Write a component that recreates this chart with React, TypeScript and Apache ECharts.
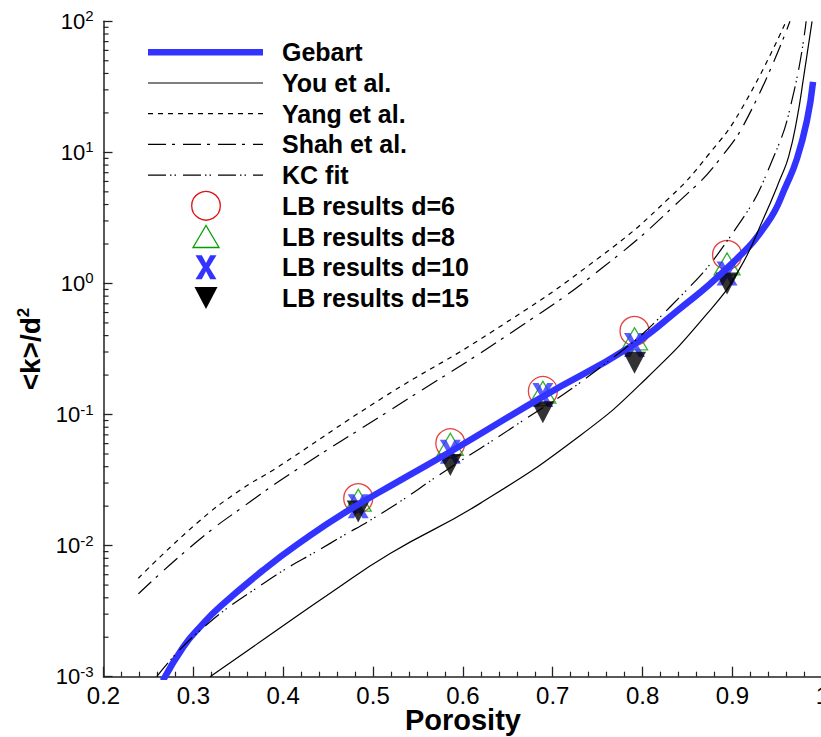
import React, { useEffect, useRef } from "react";
import * as echarts from "echarts";

// ---------- data (porosity, k/d^2) ----------
const gebartX = [0.266, 0.2889, 0.3075, 0.3297, 0.378, 0.4225, 0.467, 0.5306, 0.5859, 0.689, 0.7863, 0.8383, 0.894, 0.9385, 0.9608, 0.9719, 0.983, 0.9897];
const gebartK = [0.00093, 0.00169, 0.0024, 0.00342, 0.00652, 0.011, 0.0176, 0.0316, 0.052, 0.137, 0.329, 0.617, 1.31, 2.87, 5.81, 9.0, 17.6, 34.5];

const youX = [0.3186, 0.378, 0.4522, 0.519, 0.6192, 0.7306, 0.805, 0.8753, 0.9087, 0.9348, 0.9533, 0.9626, 0.9719, 0.9793, 0.9886];
const youK = [0.001, 0.00192, 0.00433, 0.0087, 0.021, 0.0692, 0.191, 0.627, 1.32, 3.16, 6.31, 9.33, 18.2, 37.8, 100];

const yangX = [0.2388, 0.3038, 0.352, 0.389, 0.5098, 0.6323, 0.7529, 0.8308, 0.873, 0.91, 0.9597];
const yangK = [0.00564, 0.0148, 0.0265, 0.0378, 0.133, 0.428, 1.6, 4.57, 9.55, 21.4, 100];

const shahX = [0.2388, 0.3038, 0.3631, 0.4114, 0.519, 0.6582, 0.7566, 0.842, 0.8865, 0.921, 0.964];
const shahK = [0.00428, 0.0107, 0.0216, 0.0366, 0.108, 0.442, 1.34, 4.32, 9.0, 21.0, 100];

const kcX = [0.2592, 0.3038, 0.378, 0.4522, 0.5154, 0.582, 0.6564, 0.7492, 0.8308, 0.905, 0.9459, 0.968, 0.982];
const kcK = [0.001, 0.00214, 0.00515, 0.0104, 0.0187, 0.0378, 0.0807, 0.219, 0.664, 2.7, 9.25, 28.2, 100];

const lbPorosity = [0.4835, 0.586, 0.689, 0.791, 0.894];
const lbD6 = [0.023, 0.0603, 0.151, 0.434, 1.65];
const lbD8 = [0.0222, 0.0593, 0.148, 0.378, 1.41];
const lbD10 = [0.02, 0.052, 0.141, 0.339, 1.19];
const lbD15 = [0.0182, 0.0412, 0.104, 0.248, 1.0];

const xTickLabels = ["0.2", "0.3", "0.4", "0.5", "0.6", "0.7", "0.8", "0.9", "1"];
const yExponents = [-3, -2, -1, 0, 1, 2];
const legendNames = ["Gebart", "You et al.", "Yang et al.", "Shah et al.", "KC fit", "LB results d=6", "LB results d=8", "LB results d=10", "LB results d=15"];

// ---------- styles ----------
const FONT = '"Liberation Sans", Arial, Helvetica, sans-serif';
const AXIS = "#222222";
const BLUE = "#3333ff";
const RED = "#dd1111";
const GREEN = "#00a000";
const DASH_YANG = [5, 5];
const DASH_SHAH = [18, 6, 3, 8];
const DASH_KC = [18, 4, 1.5, 3, 1.5, 7];
const X_PATH = "path://M0,0 L30,0 L50,33 L70,0 L100,0 L65,50 L100,100 L70,100 L50,67 L30,100 L0,100 L35,50 Z";

const zip = (xs: number[], ys: number[]) => xs.map((x, i) => [x, ys[i]]);

function xPolygon(cx: number, cy: number, w: number, h: number) {
  const pts = [[0, 0], [30, 0], [50, 33], [70, 0], [100, 0], [65, 50], [100, 100], [70, 100], [50, 67], [30, 100], [0, 100], [35, 50]];
  return pts.map(([px, py]) => [cx - w / 2 + (px / 100) * w, cy - h / 2 + (py / 100) * h]);
}

export default function App() {
  const ref = useRef<HTMLDivElement>(null);

  useEffect(() => {
    if (!ref.current) return;
    const chart = echarts.init(ref.current, undefined, { renderer: "svg" });

    const yMinor: number[][] = [];
    for (let e = -3; e < 2; e++) {
      for (let m = 2; m <= 9; m++) yMinor.push([0.2, m * Math.pow(10, e)]);
    }

    const rowY = (i: number) => 52.3 + i * 30.7;
    const lx1 = 148, lx2 = 263, mx = 206, tx = 282;
    const lineStyles = [
      { stroke: BLUE, lineWidth: 6.5, lineDash: null as any },
      { stroke: "#000", lineWidth: 1.2, lineDash: null as any },
      { stroke: "#000", lineWidth: 1.2, lineDash: DASH_YANG },
      { stroke: "#000", lineWidth: 1.2, lineDash: DASH_SHAH },
      { stroke: "#000", lineWidth: 1.2, lineDash: DASH_KC },
    ];
    const graphics: any[] = [];
    lineStyles.forEach((s, i) => {
      graphics.push({
        type: "line",
        shape: { x1: lx1, y1: rowY(i), x2: lx2, y2: rowY(i) },
        style: { stroke: s.stroke, lineWidth: s.lineWidth, lineDash: s.lineDash },
      });
    });
    graphics.push({ type: "circle", shape: { cx: mx, cy: rowY(5), r: 14.3 }, style: { fill: "none", stroke: RED, lineWidth: 1.3 } });
    graphics.push({
      type: "polygon",
      shape: { points: [[mx - 13, rowY(6) + 11], [mx + 13, rowY(6) + 11], [mx, rowY(6) - 11]] },
      style: { fill: "none", stroke: GREEN, lineWidth: 1.3 },
    });
    graphics.push({ type: "polygon", shape: { points: xPolygon(mx, rowY(7), 21, 24) }, style: { fill: BLUE } });
    graphics.push({
      type: "polygon",
      shape: { points: [[mx - 11.5, rowY(8) - 11], [mx + 11.5, rowY(8) - 11], [mx, rowY(8) + 11]] },
      style: { fill: "#000" },
    });
    legendNames.forEach((n, i) => {
      graphics.push({
        type: "text",
        x: tx,
        y: rowY(i),
        style: {
          text: n,
          font: `bold 25px ${FONT}`,
          fill: "#000",
          textAlign: "left",
          textVerticalAlign: "middle",
          align: "left",
          verticalAlign: "middle",
        },
      });
    });

    const lineSeries = (name: string, xs: number[], ys: number[], color: string, width: number, dash: any) => ({
      type: "line",
      name,
      data: zip(xs, ys),
      showSymbol: false,
      symbol: "none",
      smooth: 0.5,
      lineStyle: { color, width, type: dash },
      silent: true,
    });

    chart.setOption({
      animation: false,
      backgroundColor: "#fff",
      grid: { left: 103.5, top: 21.3, width: 718.8, height: 655.4, containLabel: false, outerBoundsMode: "none" },
      xAxis: {
        type: "value",
        min: 0.2,
        max: 1,
        interval: 0.1,
        axisLine: { show: true, lineStyle: { color: AXIS, width: 1.5 } },
        axisTick: { show: true, inside: true, length: 10, lineStyle: { color: AXIS, width: 1.3 } },
        minorTick: { show: true, splitNumber: 5, length: 5, lineStyle: { color: AXIS, width: 1.2 } },
        splitLine: { show: false },
        minorSplitLine: { show: false },
        axisLabel: {
          fontSize: 24,
          lineHeight: 20,
          fontFamily: FONT,
          color: "#000",
          margin: 9,
          hideOverlap: false,
          formatter: (v: number) => xTickLabels[Math.round((v - 0.2) * 10)] ?? "",
        },
        name: "Porosity",
        nameLocation: "middle",
        nameGap: 30,
        nameMoveOverlap: false,
        nameTextStyle: { fontSize: 29, lineHeight: 27, fontWeight: "bold", fontFamily: FONT, color: "#000" },
      },
      yAxis: {
        type: "log",
        logBase: 10,
        min: 0.001,
        max: 100,
        axisLine: { show: true, lineStyle: { color: AXIS, width: 1.5 } },
        axisTick: { show: true, inside: true, length: 9, lineStyle: { color: AXIS, width: 1.3 } },
        splitLine: { show: false },
        axisLabel: {
          margin: 10,
          formatter: (v: number) => {
            const e = Math.round(Math.log10(v));
            const lbl = yExponents.includes(e) ? String(e) : "";
            return `{b|10}{s|${lbl}}`;
          },
          rich: {
            b: { fontSize: 22, lineHeight: 26, fontFamily: FONT, color: "#000" },
            s: { fontSize: 15, lineHeight: 16, verticalAlign: "top", fontFamily: FONT, color: "#000" },
          },
        },
        name: "{a|<k>/d}{s|2}",
        nameLocation: "middle",
        nameGap: 50,
        nameRotate: 90,
        nameTextStyle: {
          rich: {
            a: { fontSize: 28, lineHeight: 32, fontWeight: "bold", fontFamily: FONT, color: "#000" },
            s: { fontSize: 17, lineHeight: 20, verticalAlign: "top", fontWeight: "bold", fontFamily: FONT, color: "#000" },
          },
        },
      },
      graphic: { elements: graphics },
      series: [
        {
          type: "custom",
          name: "yMinorTicks",
          silent: true,
          data: yMinor,
          encode: { x: 0, y: 1 },
          renderItem: (params: any, api: any) => {
            const p = api.coord([api.value(0), api.value(1)]);
            return {
              type: "line",
              shape: { x1: p[0], y1: p[1], x2: p[0] + 5, y2: p[1] },
              style: { stroke: AXIS, lineWidth: 1.2 },
            };
          },
        },
        lineSeries("Gebart", gebartX, gebartK, BLUE, 6.5, "solid"),
        lineSeries("You et al.", youX, youK, "#000", 1.2, "solid"),
        lineSeries("Yang et al.", yangX, yangK, "#000", 1.2, DASH_YANG),
        lineSeries("Shah et al.", shahX, shahK, "#000", 1.2, DASH_SHAH),
        lineSeries("KC fit", kcX, kcK, "#000", 1.2, DASH_KC),
        {
          type: "scatter",
          name: "LB results d=6",
          data: zip(lbPorosity, lbD6),
          symbol: "circle",
          symbolSize: 29,
          itemStyle: { color: "rgba(0,0,0,0)", borderColor: RED, borderWidth: 1.3 },
        },
        {
          type: "scatter",
          name: "LB results d=8",
          data: zip(lbPorosity, lbD8),
          symbol: "triangle",
          symbolSize: [26, 22],
          itemStyle: { color: "rgba(0,0,0,0)", borderColor: GREEN, borderWidth: 1.3 },
        },
        {
          type: "scatter",
          name: "LB results d=10",
          data: zip(lbPorosity, lbD10),
          symbol: X_PATH,
          symbolSize: [21, 24],
          itemStyle: { color: BLUE },
        },
        {
          type: "scatter",
          name: "LB results d=15",
          data: zip(lbPorosity, lbD15),
          symbol: "triangle",
          symbolRotate: 180,
          symbolSize: [23, 22],
          itemStyle: { color: "#000" },
        },
      ],
    });

    return () => chart.dispose();
  }, []);

  return <div ref={ref} style={{ position: "absolute", left: 0, top: 0, width: 821, height: 737 }} />;
}
